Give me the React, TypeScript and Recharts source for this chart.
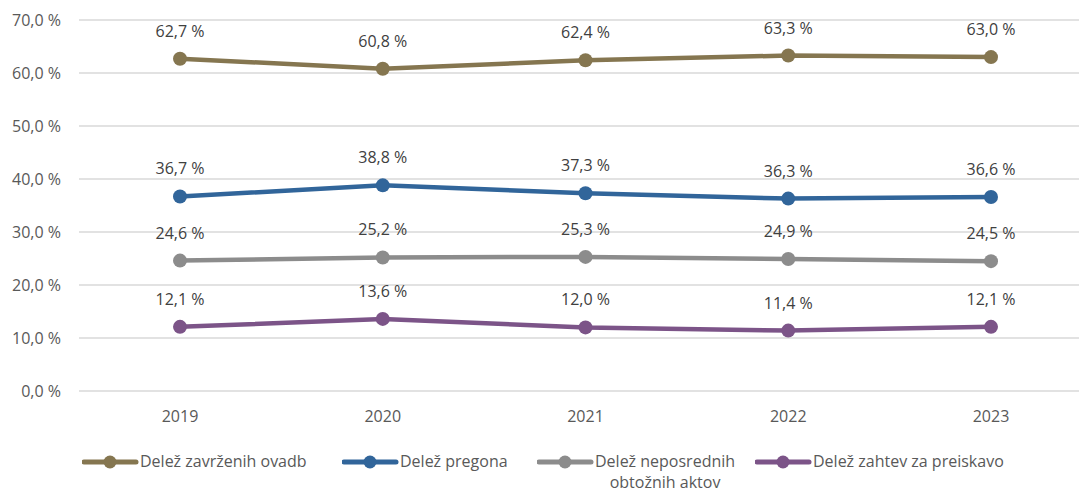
import { LineChart, Line, XAxis, YAxis, CartesianGrid, LabelList } from "recharts";

const years = ["2019", "2020", "2021", "2022", "2023"];
const zavrzene = [62.7, 60.8, 62.4, 63.3, 63.0];
const pregon = [36.7, 38.8, 37.3, 36.3, 36.6];
const neposredni = [24.6, 25.2, 25.3, 24.9, 24.5];
const zahteve = [12.1, 13.6, 12.0, 11.4, 12.1];
const yTicks = [0, 10, 20, 30, 40, 50, 60, 70];

const series = [
  { key: "zavrzene", name: "Delež zavrženih ovadb", color: "#857650", values: zavrzene },
  { key: "pregon", name: "Delež pregona", color: "#31659A", values: pregon },
  { key: "neposredni", name: "Delež neposrednih obtožnih aktov", color: "#8C8C8C", values: neposredni },
  { key: "zahteve", name: "Delež zahtev za preiskavo", color: "#7C5488", values: zahteve },
];

const data = years.map((y, i) => {
  const row: any = { year: y };
  series.forEach((s) => (row[s.key] = s.values[i]));
  return row;
});

const FONT = "'Open Sans', sans-serif";
const fmt = (v: number) => v.toFixed(1).replace(".", ",") + " %";

const ValueLabel = (props: any) => {
  const { x, y, value } = props;
  return (
    <text x={x} y={y - 22} textAnchor="middle" fontSize={16} fill="#404040" fontFamily={FONT}>
      {fmt(value)}
    </text>
  );
};

// legend items positioned like the original
const legendItems = [
  { ...series[0], left: 82, width: 260, lines: ["Delež zavrženih ovadb"] },
  { ...series[1], left: 342, width: 195, lines: ["Delež pregona"] },
  { ...series[2], left: 537, width: 218, lines: ["Delež neposrednih", "obtožnih aktov"] },
  { ...series[3], left: 755, width: 260, lines: ["Delež zahtev za preiskavo"] },
];

export default function App() {
  return (
    <div
      style={{
        position: "absolute",
        left: 0,
        top: 0,
        width: 1079,
        height: 494,
        overflow: "hidden",
        background: "#fff",
        fontFamily: FONT,
      }}
    >
      <LineChart width={1100} height={494} data={data} margin={{ top: 20, right: 8, left: 0, bottom: 73 }}>
        <CartesianGrid vertical={false} stroke="#D9D9D9" strokeWidth={1.4} />
        <XAxis
          dataKey="year"
          axisLine={false}
          tickLine={false}
          tickSize={0}
          tickMargin={20}
          height={30}
          padding={{ left: 101, right: 101 }}
          tick={{ fontSize: 16, fill: "#595959", fontFamily: FONT }}
        />
        <YAxis
          domain={[0, 70]}
          ticks={yTicks}
          width={79}
          axisLine={false}
          tickLine={false}
          tickSize={0}
          tickMargin={18}
          tickFormatter={fmt}
          tick={{ fontSize: 16, fill: "#595959", fontFamily: FONT }}
        />
        {series.map((s) => (
          <Line
            key={s.key}
            dataKey={s.key}
            name={s.name}
            stroke={s.color}
            strokeWidth={4.5}
            dot={{ r: 7, fill: s.color, stroke: s.color, strokeWidth: 0 }}
            activeDot={false}
            isAnimationActive={false}
          >
            <LabelList dataKey={s.key} content={<ValueLabel />} />
          </Line>
        ))}
      </LineChart>
      {legendItems.map((it) => (
        <div
          key={it.key}
          style={{
            position: "absolute",
            left: it.left,
            top: 451,
            width: it.width,
            display: "flex",
            alignItems: "flex-start",
          }}
        >
          <svg width={58} height={22} style={{ flex: "none" }}>
            <line x1={2} y1={11} x2={54} y2={11} stroke={it.color} strokeWidth={5} strokeLinecap="round" />
            <circle cx={28} cy={11} r={6.5} fill={it.color} />
          </svg>
          <div style={{ fontSize: 16, color: "#595959", lineHeight: "21px", textAlign: "center" }}>
            {it.lines.map((l) => (
              <div key={l}>{l}</div>
            ))}
          </div>
        </div>
      ))}
    </div>
  );
}
